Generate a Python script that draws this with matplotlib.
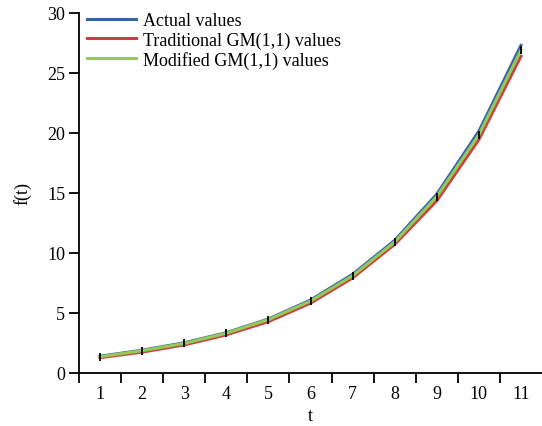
import matplotlib
matplotlib.use("Agg")
import matplotlib.pyplot as plt
import numpy as np

t = [1, 2, 3, 4, 5, 6, 7, 8, 9, 10, 11]
actual = [1.40, 1.90, 2.52, 3.36, 4.50, 6.08, 8.22, 11.05, 14.90, 20.15, 27.30]
traditional = [1.28, 1.74, 2.34, 3.18, 4.28, 5.82, 7.92, 10.72, 14.35, 19.45, 26.40]
modified = [1.36, 1.86, 2.47, 3.32, 4.45, 6.00, 8.10, 10.92, 14.70, 19.85, 26.90]
yticks = [0, 5, 10, 15, 20, 25, 30]

plt.rcParams['font.family'] = ['Liberation Serif', 'DejaVu Serif']

fig = plt.figure(figsize=(5.42, 4.27), dpi=100)
ax = fig.add_axes([79/542, 53/427, 1 - 79/542, (374-14)/427])

lw = 2.2
ax.plot(t, actual, color='#3567a6', lw=lw, label='Actual values', zorder=2)
ax.plot(t, traditional, color='#c8433f', lw=lw, label='Traditional GM(1,1) values', zorder=2)
ax.plot(t, modified, color='#96c85a', lw=lw, label='Modified GM(1,1) values', zorder=3)
ax.plot(t, modified, linestyle='none', marker='|', color='black', ms=6, mew=1.3, zorder=4)

ax.set_xlim(0.5, 11.5)
ax.set_ylim(0, 30)
ax.set_xticks(np.arange(0.5, 11.0, 1.0))
ax.set_xticklabels([])
ax.set_xticks(t, minor=True)
ax.set_xticklabels([str(v) for v in t], minor=True)
ax.tick_params(axis='x', which='minor', length=0, labelsize=13, pad=9)
ax.tick_params(axis='x', which='major', length=7, width=1.3, direction='out')
ax.set_yticks(yticks)
ax.tick_params(axis='y', length=7, width=1.3, direction='out', labelsize=13, pad=3)

for s in ['top', 'right']:
    ax.spines[s].set_visible(False)
for s in ['left', 'bottom']:
    ax.spines[s].set_linewidth(1.3)

ax.set_xlabel('t', fontsize=13, labelpad=3)
ax.set_ylabel('f(t)', fontsize=13, labelpad=11)

leg = ax.legend(loc='upper left', bbox_to_anchor=(8/463, 1.002), frameon=False,
                fontsize=13, handlelength=2.7, handletextpad=0.4,
                labelspacing=0.12, borderaxespad=0.0, borderpad=0.0)

fig.savefig('out.png', dpi=100)
